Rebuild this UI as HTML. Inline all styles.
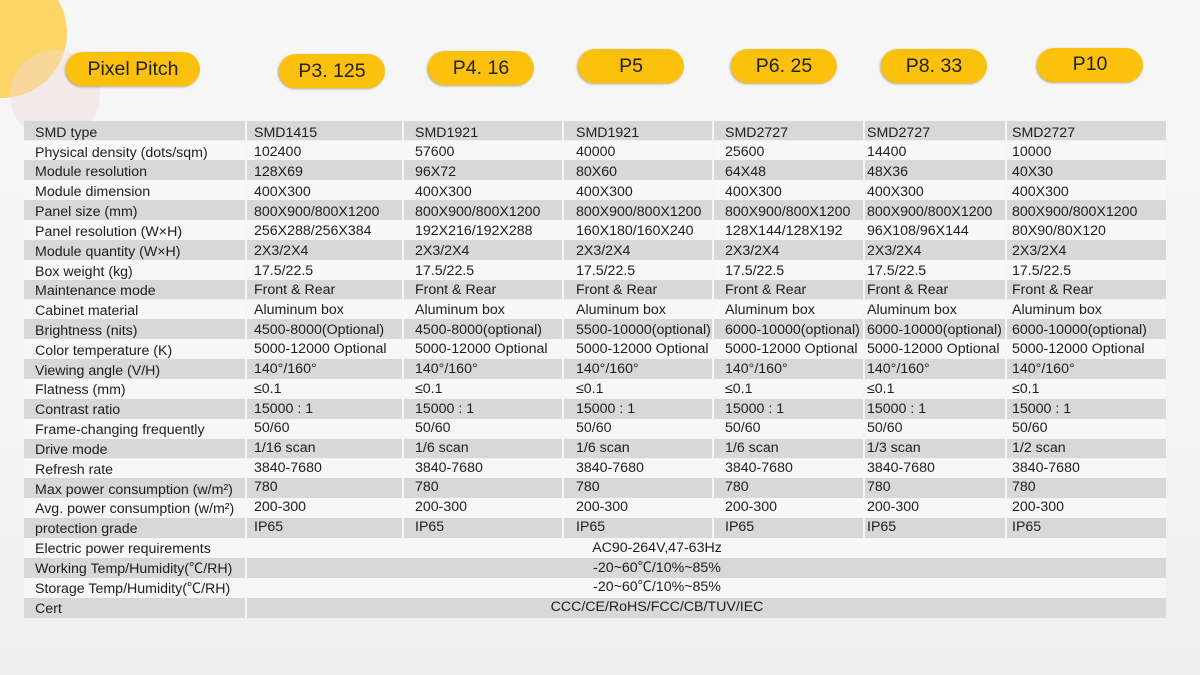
<!DOCTYPE html>
<html>
<head>
<meta charset="utf-8">
<style>
  html,body{margin:0;padding:0;}
  body{width:1200px;height:675px;position:relative;overflow:hidden;
    background:linear-gradient(180deg,#f7f7f7 0%,#f4f4f4 55%,#efefef 100%);
    font-family:"Liberation Sans","Noto Sans CJK SC",sans-serif;color:#1e1e1e;}
  .c-y{position:absolute;left:-63px;top:-32px;width:130px;height:130px;border-radius:50%;background:#fcd566;}
  .c-p{position:absolute;left:10px;top:50px;width:90px;height:90px;border-radius:50%;background:rgba(242,218,218,0.45);}
  .btn{position:absolute;height:34px;border-radius:17px;background:#fcc10c;
    box-shadow:-1px 1px 2px rgba(120,90,0,0.5);text-align:center;line-height:35px;font-size:19.5px;color:#222;}
  .row{position:absolute;left:24px;width:1142px;height:20px;}
  .g{background:#d8d8d8;}
  .l{background:rgba(248,248,248,0.75);}
  .sep{position:absolute;width:2px;background:#f6f6f6;}
  .t{position:absolute;font-size:14.2px;line-height:20px;height:20px;white-space:nowrap;color:#1e1e1e;}
</style>
</head>
<body>
<div class="c-y"></div>
<div class="c-p"></div>

<div class="btn" style="left:66px;top:52px;width:134px;">Pixel Pitch</div>
<div class="btn" style="left:279px;top:54px;width:106px;">P3. 125</div>
<div class="btn" style="left:428px;top:51px;width:106px;">P4. 16</div>
<div class="btn" style="left:578px;top:49px;width:106px;">P5</div>
<div class="btn" style="left:731px;top:49px;width:106px;">P6. 25</div>
<div class="btn" style="left:881px;top:49px;width:106px;">P8. 33</div>
<div class="btn" style="left:1037px;top:48px;width:106px;line-height:33px;">P10</div>

<div id="tbl"></div>

<script>
(function(){
  var rows = [
    ["SMD type","SMD1415","SMD1921","SMD1921","SMD2727","SMD2727","SMD2727"],
    ["Physical density (dots/sqm)","102400","57600","40000","25600","14400","10000"],
    ["Module resolution","128X69","96X72","80X60","64X48","48X36","40X30"],
    ["Module dimension","400X300","400X300","400X300","400X300","400X300","400X300"],
    ["Panel size (mm)","800X900/800X1200","800X900/800X1200","800X900/800X1200","800X900/800X1200","800X900/800X1200","800X900/800X1200"],
    ["Panel resolution (W\u00d7H)","256X288/256X384","192X216/192X288","160X180/160X240","128X144/128X192","96X108/96X144","80X90/80X120"],
    ["Module quantity (W\u00d7H)","2X3/2X4","2X3/2X4","2X3/2X4","2X3/2X4","2X3/2X4","2X3/2X4"],
    ["Box weight (kg)","17.5/22.5","17.5/22.5","17.5/22.5","17.5/22.5","17.5/22.5","17.5/22.5"],
    ["Maintenance mode","Front &amp; Rear","Front &amp; Rear","Front &amp; Rear","Front &amp; Rear","Front &amp; Rear","Front &amp; Rear"],
    ["Cabinet material","Aluminum box","Aluminum box","Aluminum box","Aluminum box","Aluminum box","Aluminum box"],
    ["Brightness (nits)","4500-8000(Optional)","4500-8000(optional)","5500-10000(optional)","6000-10000(optional)","6000-10000(optional)","6000-10000(optional)"],
    ["Color temperature (K)","5000-12000 Optional","5000-12000 Optional","5000-12000 Optional","5000-12000 Optional","5000-12000 Optional","5000-12000 Optional"],
    ["Viewing angle (V/H)","140\u00b0/160\u00b0","140\u00b0/160\u00b0","140\u00b0/160\u00b0","140\u00b0/160\u00b0","140\u00b0/160\u00b0","140\u00b0/160\u00b0"],
    ["Flatness (mm)","\u22640.1","\u22640.1","\u22640.1","\u22640.1","\u22640.1","\u22640.1"],
    ["Contrast ratio","15000 : 1","15000 : 1","15000 : 1","15000 : 1","15000 : 1","15000 : 1"],
    ["Frame-changing frequently","50/60","50/60","50/60","50/60","50/60","50/60"],
    ["Drive mode","1/16 scan","1/6 scan","1/6 scan","1/6 scan","1/3 scan","1/2 scan"],
    ["Refresh rate","3840-7680","3840-7680","3840-7680","3840-7680","3840-7680","3840-7680"],
    ["Max power consumption (w/m\u00b2)","780","780","780","780","780","780"],
    ["Avg. power consumption (w/m\u00b2)","200-300","200-300","200-300","200-300","200-300","200-300"],
    ["protection grade","IP65","IP65","IP65","IP65","IP65","IP65"],
    ["Electric power requirements","AC90-264V,47-63Hz"],
    ["Working Temp/Humidity(\u2103/RH)","-20~60\u2103/10%~85%"],
    ["Storage Temp/Humidity(\u2103/RH)","-20~60\u2103/10%~85%"],
    ["Cert","CCC/CE/RoHS/FCC/CB/TUV/IEC"]
  ];
  var textX = [35,254,415,576,725,867,1012];
  var seps = [245,402,562,712,863,1005];
  var h = "";
  var top0 = 120.5, pitch = 19.88;
  for (var i=0;i<rows.length;i++){
    var rt = top0 + i*pitch;
    h += '<div class="row '+(i%2===0?'g':'l')+'" style="top:'+rt.toFixed(2)+'px;height:'+(pitch+0.2).toFixed(2)+'px"></div>';
  }
  var tableBottom = top0 + rows.length*pitch;
  for (var s=0;s<seps.length;s++){
    var bottom = (s===0)? tableBottom : top0 + 21*pitch;
    h += '<div class="sep" style="left:'+seps[s]+'px;top:'+top0+'px;height:'+(bottom-top0).toFixed(2)+'px"></div>';
  }
  for (var i=0;i<rows.length;i++){
    var lt = 122.7 + i*19.83;
    var dt = 122.7 + i*19.7;
    var r = rows[i];
    h += '<div class="t" style="left:'+textX[0]+'px;top:'+lt.toFixed(2)+'px">'+r[0]+'</div>';
    if (r.length===2){
      h += '<div class="t" style="left:246px;width:822px;text-align:center;top:'+(dt+1.5).toFixed(2)+'px">'+r[1]+'</div>';
    } else {
      for (var c=1;c<r.length;c++){
        h += '<div class="t" style="left:'+textX[c]+'px;top:'+dt.toFixed(2)+'px">'+r[c]+'</div>';
      }
    }
  }
  document.getElementById('tbl').innerHTML = h;
})();
</script>
</body>
</html>
